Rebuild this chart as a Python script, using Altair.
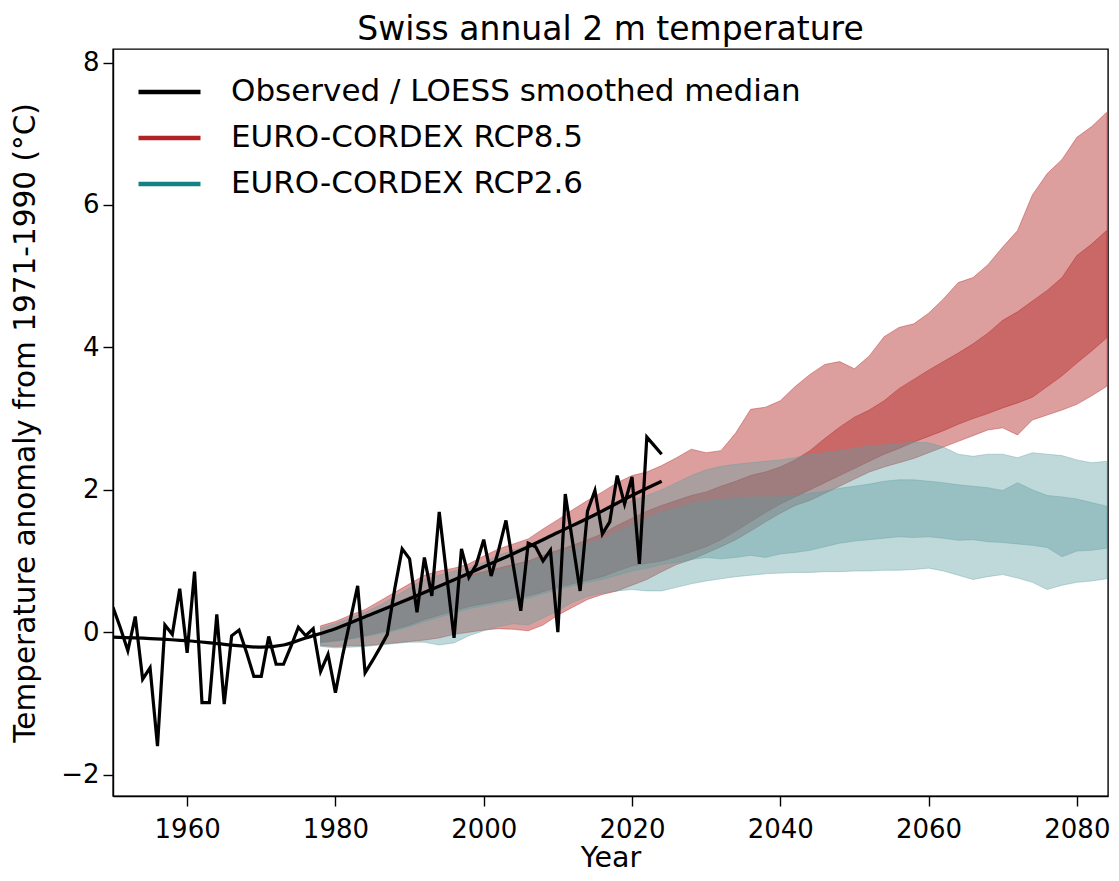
import altair as alt
import pandas as pd

# ---------------- data ----------------
obs_years = list(range(1950, 2025))
obs_vals = [0.35, 0.06, -0.26, 0.22, -0.66, -0.50, -1.60, 0.10, -0.03, 0.61,
            -0.29, 0.85, -0.99, -0.99, 0.25, -1.01, -0.05, 0.03, -0.28, -0.62,
            -0.62, -0.06, -0.45, -0.45, -0.20, 0.07, -0.05, 0.05, -0.55, -0.31,
            -0.85, -0.31, 0.17, 0.65, -0.57, -0.40, -0.22, -0.03, 0.61, 1.17,
            1.03, 0.28, 1.05, 0.51, 1.69, 0.80, -0.08, 1.17, 0.77, 0.95,
            1.30, 0.79, 1.15, 1.57, 0.93, 0.30, 1.25, 1.20, 1.00, 1.15,
            0.00, 1.94, 1.26, 0.58, 1.70, 1.99, 1.38, 1.55, 2.20, 1.80,
            2.18, 0.96, 2.74, 2.62, 2.50]

loess_years = [1950, 1955, 1960, 1965, 1970, 1973, 1976, 1980, 1985, 1990,
               1995, 2000, 2005, 2010, 2015, 2020, 2024]
loess_vals = [-0.07, -0.09, -0.12, -0.17, -0.21, -0.18, -0.08, 0.05, 0.26, 0.47,
              0.69, 0.92, 1.15, 1.40, 1.65, 1.92, 2.12]

band_years = list(range(1978, 2085, 2))

# RCP8.5 outer range
r85_hi = [0.09, 0.15, 0.24, 0.32, 0.44, 0.56, 0.68, 0.80, 0.86, 0.90,
          0.96, 1.07, 1.17, 1.24, 1.31, 1.45, 1.58, 1.72, 1.85, 1.97,
          2.10, 2.20, 2.25, 2.34, 2.45, 2.57, 2.52, 2.55, 2.80, 3.13,
          3.16, 3.25, 3.45, 3.62, 3.76, 3.80, 3.70, 3.88, 4.15, 4.28,
          4.33, 4.48, 4.68, 4.91, 4.98, 5.16, 5.41, 5.64, 6.14, 6.44,
          6.64, 6.95, 7.10, 7.30]
r85_lo = [-0.19, -0.20, -0.19, -0.19, -0.17, -0.15, -0.13, -0.11, -0.08, -0.03,
          0.00, 0.03, 0.05, 0.04, 0.02, 0.10, 0.24, 0.35, 0.46, 0.53,
          0.58, 0.66, 0.74, 0.85, 0.95, 1.02, 1.11, 1.20, 1.30, 1.42,
          1.55, 1.67, 1.78, 1.85, 1.95, 2.05, 2.15, 2.25, 2.32, 2.38,
          2.44, 2.52, 2.60, 2.68, 2.76, 2.84, 2.87, 2.77, 2.98, 3.05,
          3.12, 3.20, 3.32, 3.45]
# RCP8.5 inner range
r85_ihi = [-0.02, 0.05, 0.12, 0.20, 0.30, 0.40, 0.50, 0.58, 0.66, 0.74,
           0.80, 0.85, 0.90, 0.95, 1.00, 1.08, 1.15, 1.22, 1.30, 1.38,
           1.50, 1.60, 1.70, 1.78, 1.85, 1.92, 1.97, 2.05, 2.12, 2.20,
           2.25, 2.32, 2.42, 2.55, 2.72, 2.88, 3.02, 3.12, 3.25, 3.42,
           3.55, 3.68, 3.80, 3.92, 4.05, 4.20, 4.38, 4.50, 4.65, 4.80,
           4.98, 5.29, 5.45, 5.64]
r85_ilo = [-0.14, -0.12, -0.09, -0.05, 0.00, 0.04, 0.10, 0.18, 0.24, 0.30,
           0.36, 0.40, 0.44, 0.48, 0.51, 0.57, 0.63, 0.68, 0.73, 0.78,
           0.86, 0.93, 0.97, 1.00, 1.06, 1.13, 1.20, 1.30, 1.42, 1.55,
           1.68, 1.80, 1.90, 2.00, 2.10, 2.20, 2.30, 2.40, 2.50, 2.58,
           2.67, 2.75, 2.83, 2.92, 3.00, 3.07, 3.15, 3.22, 3.30, 3.45,
           3.60, 3.78, 3.95, 4.13]

# RCP2.6 outer range
r26_hi = [0.06, 0.12, 0.20, 0.28, 0.38, 0.50, 0.62, 0.74, 0.80, 0.86,
          0.90, 0.98, 1.08, 1.15, 1.22, 1.32, 1.42, 1.52, 1.62, 1.70,
          1.78, 1.85, 1.92, 2.00, 2.10, 2.20, 2.28, 2.33, 2.36, 2.38,
          2.40, 2.42, 2.45, 2.50, 2.52, 2.55, 2.58, 2.62, 2.63, 2.65,
          2.67, 2.66, 2.60, 2.50, 2.47, 2.50, 2.50, 2.45, 2.52, 2.50,
          2.48, 2.42, 2.38, 2.40]
r26_lo = [-0.20, -0.22, -0.21, -0.20, -0.18, -0.16, -0.14, -0.14, -0.18, -0.15,
          -0.05, 0.02, 0.08, 0.12, 0.10, 0.20, 0.30, 0.42, 0.50, 0.55,
          0.58, 0.60, 0.58, 0.58, 0.63, 0.68, 0.72, 0.75, 0.78, 0.80,
          0.82, 0.83, 0.84, 0.84, 0.85, 0.85, 0.86, 0.86, 0.87, 0.87,
          0.88, 0.90, 0.86, 0.80, 0.74, 0.78, 0.81, 0.76, 0.70, 0.60,
          0.66, 0.70, 0.72, 0.75]
# RCP2.6 inner range
r26_ihi = [-0.03, 0.04, 0.11, 0.19, 0.28, 0.38, 0.48, 0.56, 0.64, 0.71,
           0.77, 0.82, 0.87, 0.92, 0.98, 1.05, 1.12, 1.18, 1.25, 1.30,
           1.40, 1.50, 1.60, 1.68, 1.74, 1.80, 1.84, 1.86, 1.88, 1.90,
           1.90, 1.90, 1.92, 1.95, 1.98, 2.02, 2.05, 2.08, 2.12, 2.14,
           2.14, 2.12, 2.10, 2.07, 2.05, 2.03, 1.99, 2.10, 2.00, 1.92,
           1.90, 1.87, 1.82, 1.77]
r26_ilo = [-0.15, -0.13, -0.10, -0.06, -0.02, 0.02, 0.08, 0.15, 0.21, 0.27,
           0.33, 0.37, 0.41, 0.45, 0.48, 0.54, 0.60, 0.65, 0.70, 0.74,
           0.80, 0.86, 0.90, 0.95, 0.98, 1.02, 1.05, 1.03, 1.05, 1.08,
           1.05, 1.10, 1.12, 1.15, 1.20, 1.25, 1.28, 1.30, 1.32, 1.34,
           1.33, 1.34, 1.32, 1.29, 1.30, 1.27, 1.26, 1.24, 1.22, 1.19,
           1.06, 1.14, 1.15, 1.18]

series_labels = ["Observed / LOESS smoothed median",
                 "EURO-CORDEX RCP8.5",
                 "EURO-CORDEX RCP2.6"]
series_colors = ["#000000", "#b22222", "#148282"]

# ---------------- tables ----------------
obs_df = pd.DataFrame({"year": obs_years, "value": obs_vals,
                       "series": series_labels[0]})
loess_df = pd.DataFrame({"year": loess_years, "value": loess_vals,
                         "series": series_labels[0]})

def band(lo, hi):
    return pd.DataFrame({"year": band_years, "value": lo, "hi": hi})

XDOM = [1950, 2084.2]
YDOM = [-2.3, 8.19]
ytitle = "Temperature anomaly from 1971-1990 (°C)"

xaxis = alt.Axis(values=[1960, 1980, 2000, 2020, 2040, 2060, 2080], format="d",
                 title="Year", labelPadding=10, titleFontSize=28.5,
                 titleBaseline="alphabetic", titleY=70)
yaxis = alt.Axis(values=[-2, 0, 2, 4, 6, 8], title=ytitle, labelPadding=4,
                 titlePadding=20, titleFontSize=29.5)

def X():
    return alt.X("year:Q", scale=alt.Scale(domain=XDOM, nice=False, zero=False),
                 axis=xaxis, title="Year")

def Y():
    return alt.Y("value:Q", scale=alt.Scale(domain=YDOM, nice=False, zero=False),
                 axis=yaxis, title=ytitle)

def area(df, color, op):
    return alt.Chart(df).mark_area(
        fill=color, fillOpacity=op, stroke=color, strokeOpacity=op * 0.9,
        strokeWidth=1, clip=True
    ).encode(x=X(), y=Y(), y2="hi:Q")

red = "#b22222"
tealfill = "#5f9ea0"

layers = [
    area(band(r85_lo, r85_hi), red, 0.44),
    area(band(r85_ilo, r85_ihi), red, 0.44),
    area(band(r26_lo, r26_hi), tealfill, 0.4),
    area(band(r26_ilo, r26_ihi), tealfill, 0.4),
]

color_enc = alt.Color(
    "series:N",
    scale=alt.Scale(domain=series_labels, range=series_colors),
    legend=alt.Legend(
        title=None, orient="none", legendX=23, legendY=28,
        symbolType="stroke", symbolSize=3844, symbolStrokeWidth=4.5,
        labelFontSize=31, labelFont="DejaVu Sans", labelColor="black",
        labelLimit=800, labelOffset=28, rowPadding=15, padding=0,
        clipHeight=30,
    ),
)

obs_line = alt.Chart(obs_df).mark_line(strokeWidth=3.2, clip=True).encode(
    x=X(), y=Y(), color=color_enc)
loess_line = alt.Chart(loess_df).mark_line(strokeWidth=3.2, interpolate="monotone",
                                           clip=True).encode(
    x=X(), y=Y(), color=color_enc)

chart = alt.layer(*layers, obs_line, loess_line).properties(
    width=995, height=747,
    title=alt.TitleParams("Swiss annual 2 m temperature", fontSize=33,
                          fontWeight="normal", font="DejaVu Sans", color="black",
                          anchor="middle", offset=2),
    autosize=alt.AutoSizeParams(type="none"),
    padding={"left": 105, "top": 41, "right": 3, "bottom": 77},
).configure(
    font="DejaVu Sans",
).configure_view(
    stroke="black", strokeWidth=1.4,
).configure_axis(
    grid=False, domainColor="black", domainWidth=1.4, tickColor="black",
    tickWidth=1.4, tickSize=10, labelFontSize=26, labelColor="black",
    labelFont="DejaVu Sans", titleFont="DejaVu Sans",
    titleFontWeight="normal", titleColor="black",
)

chart.save("out.html", embed_options={"renderer": "svg", "actions": False})
